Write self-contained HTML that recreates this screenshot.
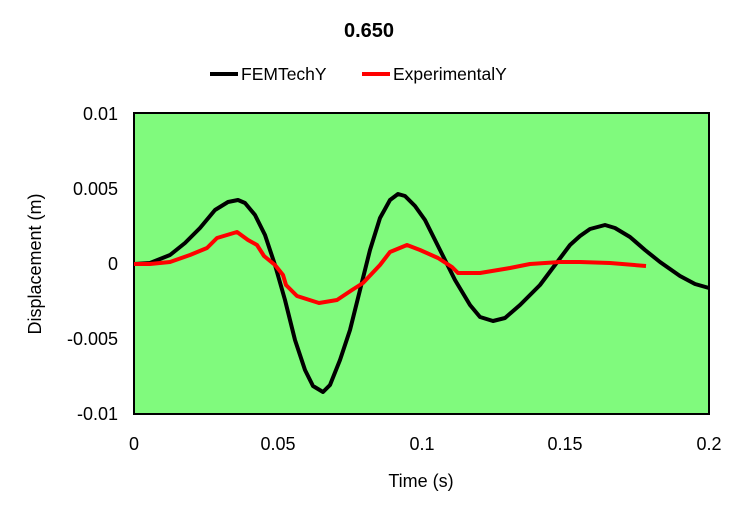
<html><body style="margin:0;background:#fff">
<svg width="739" height="509" xmlns="http://www.w3.org/2000/svg" font-family="Liberation Sans, sans-serif">
<rect x="134" y="113" width="575" height="301" fill="#80fa7d" stroke="#000" stroke-width="2"/>
<text x="369" y="37" text-anchor="middle" font-size="20" font-weight="bold">0.650</text>
<line x1="210" y1="74" x2="238" y2="74" stroke="#000" stroke-width="4"/>
<text x="241" y="80" font-size="17.5">FEMTechY</text>
<line x1="362" y1="74" x2="390" y2="74" stroke="red" stroke-width="4"/>
<text x="393" y="80" font-size="17.5">ExperimentalY</text>
<g font-size="18" text-anchor="end">
<text x="118" y="120">0.01</text><text x="118" y="195">0.005</text><text x="118" y="270">0</text>
<text x="118" y="345">-0.005</text><text x="118" y="420">-0.01</text></g>
<g font-size="18" text-anchor="middle">
<text x="134" y="450">0</text><text x="278" y="450">0.05</text><text x="422" y="450">0.1</text>
<text x="565" y="450">0.15</text><text x="709" y="450">0.2</text>
<text x="421" y="487">Time (s)</text></g>
<text transform="translate(41,264) rotate(-90)" font-size="18" text-anchor="middle">Displacement (m)</text>
<polyline fill="none" stroke="#000" stroke-width="4" stroke-linejoin="round" points="134,264 150,263 170,255 185,243 200,228 215,210 228,202 238,200 245,203 255,215 265,235 275,265 285,300 295,340 305,370 313,386 323,392 330,385 340,360 350,330 360,290 370,250 380,218 390,200 398,194 405,196 415,206 425,220 440,250 455,280 470,305 480,317 493,321 505,318 520,305 540,285 555,265 570,245 580,236 590,229 605,225 615,228 630,237 645,250 660,262 680,276 695,284 709,288"/>
<polyline fill="none" stroke="red" stroke-width="4" stroke-linejoin="round" points="134,264 150,264 170,262 190,255 207,248 217,238 237,232 248,240 257,245 264,256 275,265 283,275 286,285 297,296 319,303 337,300 352,290 363,283 380,265 390,252 407,245 420,250 438,258 452,267 458,273 480,273 510,268 530,264 560,262 580,262 610,263 646,266"/>
</svg></body></html>
